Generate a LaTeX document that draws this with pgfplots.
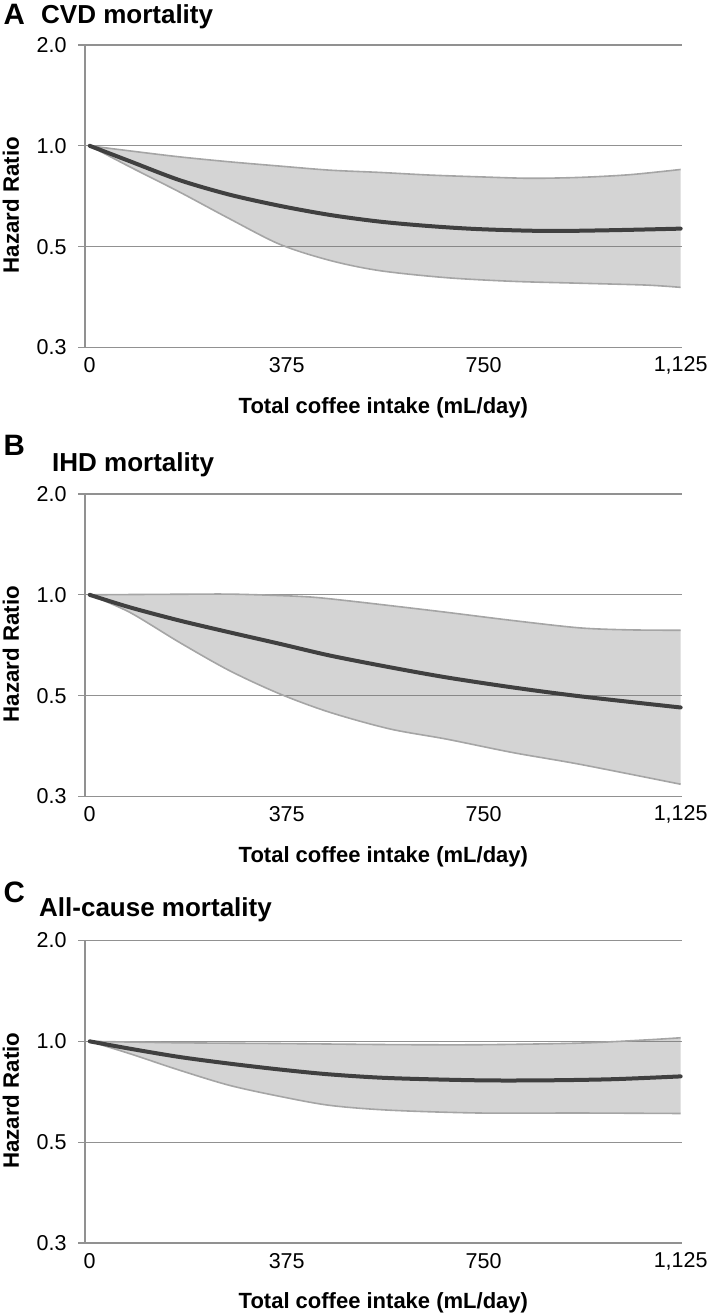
\documentclass[border=0pt]{standalone}
\usepackage{fontspec}
\setmainfont{Liberation Sans}
\usepackage{pgfplots}
\pgfplotsset{compat=1.18}

\definecolor{gridgray}{RGB}{145,145,145}
\definecolor{bandtint}{RGB}{120,120,120}
\definecolor{bandedge}{RGB}{165,165,165}
\definecolor{hrline}{RGB}{64,64,64}

\pgfplotsset{
  every axis/.append style={
    scale only axis, width=596.7pt, height=302.5pt,
    anchor=south west,
    xmin=-9, xmax=1127,
    ymode=log, log basis y=2, ymin=0.25, ymax=2,
    xtick={0,375,750,1125}, xticklabels={0,375,750,{1,125}},
    ytick={0.25,0.5,1,2}, yticklabels={0.3,0.5,1.0,2.0},
    axis x line*=bottom, axis y line*=left,
    axis line style={gridgray, line width=1.3pt, -},
    ymajorgrids, major grid style={gridgray, line width=1.3pt},
    tick align=outside, major tick length=7pt,
    xtick style={draw=none}, ytick style={gridgray, line width=1.3pt},
    tick label style={font=\fontsize{21.5}{21.5}\selectfont},
    yticklabel style={anchor=east, xshift=-8pt},
    xticklabel style={anchor=center, yshift=-11pt},
    xlabel={Total coffee intake (mL/day)},
    ylabel={Hazard Ratio},
    xlabel style={font=\bfseries\fontsize{22}{22}\selectfont,
      at={(rel axis cs:0.5,0)}, anchor=center, yshift=-60pt},
    ylabel style={font=\bfseries\fontsize{22.3}{22.3}\selectfont,
      at={(rel axis cs:0,0.5)}, anchor=center, yshift=74pt, xshift=-9pt},
    clip=false,
  },
}
\tikzset{
  % translucent so the grid shows through the band
  ciband/.style={fill=bandtint, fill opacity=0.32, draw=none},
  cibound/.style={draw=bandedge, line width=1.6pt, smooth},
  hrcurve/.style={draw=hrline, line width=4pt, smooth, line cap=round},
}

\begin{document}
\begin{tikzpicture}
\useasboundingbox (0pt,0pt) rectangle (707pt,-1316pt);

% A: CVD mortality
\begin{axis}[at={(85pt,-347.5pt)}]
  \addplot[ciband] coordinates {
    (0,1.0) (76,0.966) (171,0.927) (266,0.896) (362,0.870) (457,0.846)
    (552,0.833) (647,0.818) (742,0.808) (838,0.800) (933,0.805) (1028,0.820) (1125,0.850)
    (1125,0.378) (1060,0.384) (933,0.389) (806,0.394) (679,0.404) (552,0.424)
    (457,0.455) (362,0.508) (266,0.606) (171,0.728) (76,0.866) (0,1.0)} -- cycle;
  \addplot[cibound] coordinates {
    (0,1.0) (76,0.966) (171,0.927) (266,0.896) (362,0.870) (457,0.846)
    (552,0.833) (647,0.818) (742,0.808) (838,0.800) (933,0.805) (1028,0.820) (1125,0.850)};
  \addplot[cibound] coordinates {
    (0,1.0) (76,0.866) (171,0.728) (266,0.606) (362,0.508) (457,0.455)
    (552,0.424) (679,0.404) (806,0.394) (933,0.389) (1060,0.384) (1125,0.378)};
  \addplot[hrcurve] coordinates {
    (0,1.0) (76,0.900) (171,0.790) (266,0.715) (362,0.662) (457,0.622)
    (552,0.594) (647,0.576) (742,0.564) (869,0.557) (996,0.560) (1125,0.566)};
\end{axis}

% B: IHD mortality
\begin{axis}[at={(85pt,-796.5pt)}]
  \addplot[ciband] coordinates {
    (0,1.0) (76,1.002) (171,1.004) (266,1.005) (362,0.995) (425,0.984)
    (489,0.961) (571,0.929) (679,0.887) (806,0.838) (933,0.797) (1028,0.786) (1125,0.784)
    (1125,0.272) (933,0.312) (806,0.338) (679,0.371) (571,0.398) (457,0.446)
    (362,0.506) (266,0.594) (171,0.721) (76,0.887) (0,1.0)} -- cycle;
  \addplot[cibound] coordinates {
    (0,1.0) (76,1.002) (171,1.004) (266,1.005) (362,0.995) (425,0.984)
    (489,0.961) (571,0.929) (679,0.887) (806,0.838) (933,0.797) (1028,0.786) (1125,0.784)};
  \addplot[cibound] coordinates {
    (0,1.0) (76,0.887) (171,0.721) (266,0.594) (362,0.506) (457,0.446)
    (571,0.398) (679,0.371) (806,0.338) (933,0.312) (1125,0.272)};
  \addplot[hrcurve] coordinates {
    (0,1.0) (76,0.918) (171,0.838) (266,0.773) (362,0.714) (457,0.659)
    (571,0.608) (679,0.567) (806,0.529) (933,0.498) (1125,0.461)};
\end{axis}

% C: All-cause mortality
\begin{axis}[at={(85pt,-1243pt)}]
  \addplot[ciband] coordinates {
    (0,1.0) (171,0.990) (362,0.985) (571,0.978) (742,0.977) (933,0.988)
    (1060,1.010) (1125,1.025)
    (1125,0.609) (933,0.611) (742,0.611) (571,0.623) (457,0.644) (362,0.685)
    (266,0.739) (171,0.820) (76,0.919) (0,1.0)} -- cycle;
  \addplot[cibound] coordinates {
    (0,1.0) (171,0.990) (362,0.985) (571,0.978) (742,0.977) (933,0.988)
    (1060,1.010) (1125,1.025)};
  \addplot[cibound] coordinates {
    (0,1.0) (76,0.919) (171,0.820) (266,0.739) (362,0.685) (457,0.644)
    (571,0.623) (742,0.611) (933,0.611) (1125,0.609)};
  \addplot[hrcurve] coordinates {
    (0,1.0) (76,0.951) (171,0.898) (266,0.858) (362,0.824) (457,0.797)
    (571,0.777) (742,0.765) (869,0.765) (996,0.771) (1125,0.786)};
\end{axis}

\begin{scope}[every node/.style={anchor=base west, inner sep=0pt}]
  \node[font=\bfseries\fontsize{29.5}{29.5}\selectfont] at (3.5pt,-25pt) {A};
  \node[font=\bfseries\fontsize{26}{26}\selectfont] at (41pt,-23.3pt) {CVD mortality};
  \node[font=\bfseries\fontsize{29.5}{29.5}\selectfont] at (3.5pt,-455.5pt) {B};
  \node[font=\bfseries\fontsize{26}{26}\selectfont] at (52pt,-471pt) {IHD mortality};
  \node[font=\bfseries\fontsize{29.5}{29.5}\selectfont] at (3.5pt,-902pt) {C};
  \node[font=\bfseries\fontsize{26}{26}\selectfont] at (39pt,-916pt) {All-cause mortality};
\end{scope}
\end{tikzpicture}
\end{document}
